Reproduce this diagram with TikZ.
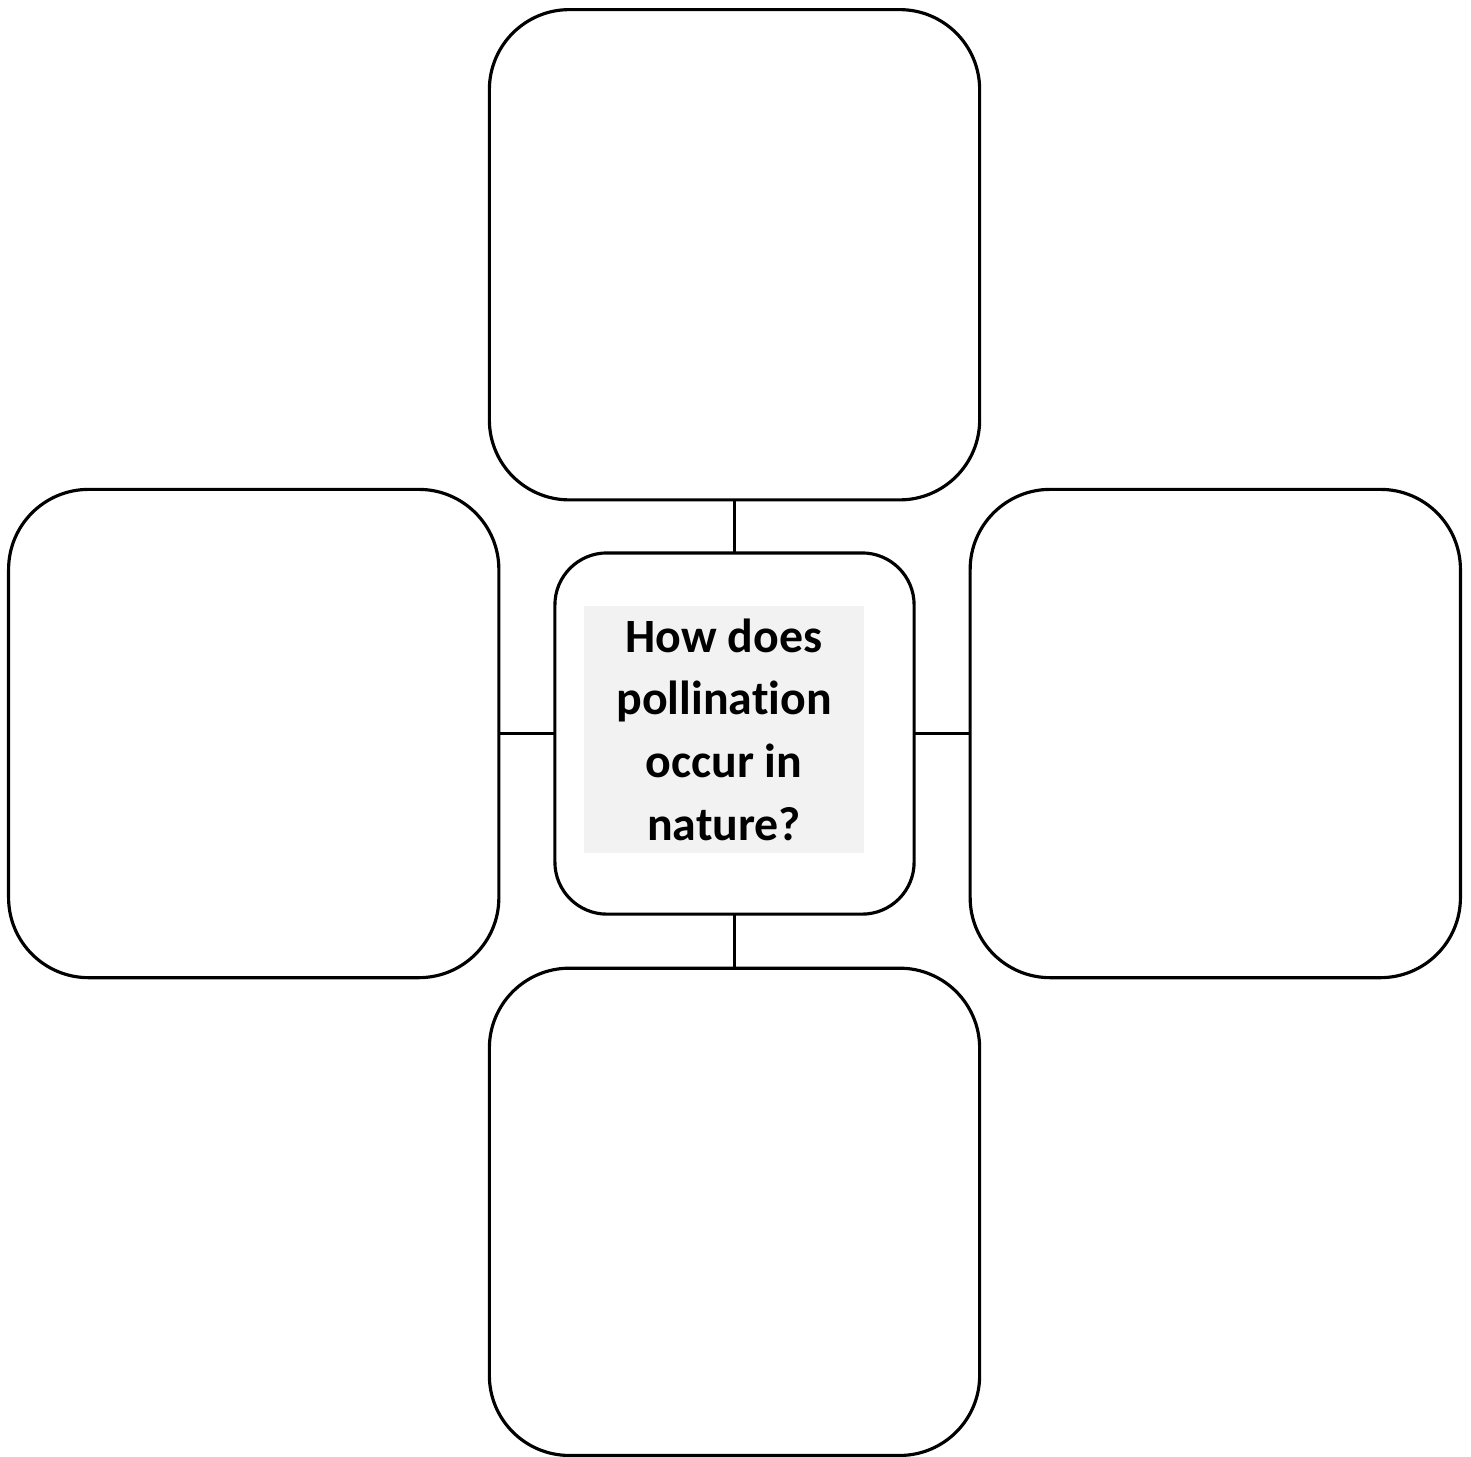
\documentclass[tikz,border=0pt]{standalone}
\usepackage{fontspec}
\setmainfont{Carlito}[Ligatures=NoCommon]
\usepackage{xcolor}
\usepackage{tikz}
\usetikzlibrary{positioning}
\definecolor{questiongray}{RGB}{242, 242, 242}

\begin{document}
\begin{tikzpicture}[x=0.01cm, y=-0.01cm,
    cell/.style={draw=black, line width=0.9pt, rounded corners=0.8cm, rectangle, minimum width=4.9cm, minimum height=4.88cm, outer sep=0pt},
    link/.style={draw=black, line width=0.6pt}]
    \useasboundingbox (0,0) rectangle (1471,1456);
    \node [draw=black, line width=0.9pt, rounded corners=0.52cm, rectangle, minimum width=3.59cm, minimum height=3.61cm, outer sep=0pt] (hub) at (734.5,733.5) {};
    \node [fill=questiongray, minimum width=2.8cm, minimum height=2.47cm, inner sep=0pt, align=center, font=\bfseries\fontsize{13.6}{17.8}\selectfont] (question) at (724,729.5) {How does\\pollination\\occur in\\nature?};

    \node [cell, above=0.53cm of hub, minimum height=4.9cm] (topcell) {};
    \node [cell, left=0.56cm of hub] (leftcell) {};
    \node [cell, right=0.56cm of hub] (rightcell) {};
    \node [cell, below=0.54cm of hub, minimum height=4.87cm] (bottomcell) {};

    \draw [link] (topcell) -- (hub);
    \draw [link] (bottomcell) -- (hub);
    \draw [link] (leftcell) -- (hub);
    \draw [link] (rightcell) -- (hub);
\end{tikzpicture}
\end{document}
